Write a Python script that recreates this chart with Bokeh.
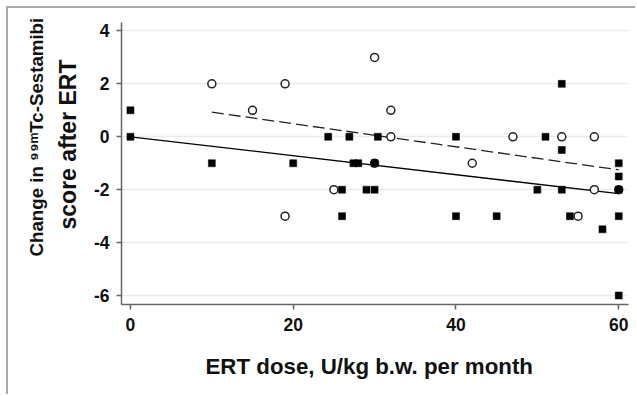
from bokeh.plotting import figure
from bokeh.models import Range1d, Title
from bokeh.embed import file_html
from bokeh.resources import INLINE

# Group 1 (filled squares): ERT dose vs change in score
sq_dose = [0, 0, 10, 20, 24.3, 26.9, 30.4, 27.4, 28, 30, 26, 29, 30, 26,
           40, 51, 53, 53, 60, 60, 60, 50, 53, 40, 45, 54, 60, 58, 60]
sq_change = [1, 0, -1, -1, 0, 0, 0, -1, -1, -1, -2, -2, -2, -3,
             0, 0, 2, -0.5, -1, -1.5, -2, -2, -2, -3, -3, -3, -3, -3.5, -6]

# Group 2 (open circles)
ci_dose = [10, 15, 19, 19, 25, 30, 32, 32, 42, 47, 53, 57, 57, 55, 30, 60]
ci_change = [2, 1, 2, -3, -2, 3, 1, 0, -1, 0, 0, 0, -2, -3, -1, -2]

# Regression lines (endpoints)
fit_sq_x = [0, 60]
fit_sq_y = [0.0, -2.15]
fit_ci_x = [10, 60]
fit_ci_y = [0.93, -1.25]

x_ticks = [0, 20, 40, 60]
y_ticks = [-6, -4, -2, 0, 2, 4]
y_tick_labels = ["-6", "-4", "-2", "0", "2", "4"]

x_title = "ERT dose, U/kg b.w. per month"
y_title_1 = "Change in \u2079\u2079\u1d50Tc-Sestamibi"
y_title_2 = "score after ERT"

p = figure(width=629, height=388, output_backend="svg", toolbar_location=None,
           x_range=Range1d(-1.1, 61.2), y_range=Range1d(-6.34, 4.32),
           min_border_left=113, min_border_right=9, min_border_top=14,
           min_border_bottom=91)
p.styles = {"margin-left": "6px", "margin-top": "6px",
            "border-left": "2px solid #aaaaaa", "border-top": "2px solid #aaaaaa"}
p.outline_line_color = None
p.background_fill_color = "white"
p.border_fill_color = "white"

p.xgrid.grid_line_color = None
p.ygrid.grid_line_color = "#ebebeb"
p.ygrid.grid_line_width = 1.5
p.xaxis.ticker = x_ticks
p.yaxis.ticker = y_ticks
p.yaxis.major_label_overrides = {t: s for t, s in zip(y_ticks, y_tick_labels)}

for ax in (p.xaxis[0], p.yaxis[0]):
    ax.axis_line_color = "#666666"
    ax.axis_line_width = 1.5
    ax.major_tick_line_color = "#666666"
    ax.major_tick_line_width = 1.5
    ax.major_tick_out = 5
    ax.major_tick_in = 0
    ax.minor_tick_line_color = None
    ax.major_label_text_font = "Liberation Sans"
    ax.major_label_text_font_style = "bold"
    ax.major_label_text_font_size = "17.5px"
    ax.major_label_text_color = "#111111"

p.xaxis.major_label_standoff = 8
p.yaxis.major_label_standoff = 7

title_style = dict(text_font="Liberation Sans", text_font_style="bold", text_color="#111111")
p.add_layout(Title(text=x_title, align="left", offset=84, standoff=36,
                   text_font_size="22.3px", **title_style), "below")
p.add_layout(Title(text=y_title_2, align="left", offset=75, standoff=16,
                   vertical_align="top", text_font_size="23px", **title_style), "left")
p.add_layout(Title(text=y_title_1, align="left", offset=48, standoff=0,
                   text_font_size="18.7px", **title_style), "left")

p.line(fit_sq_x, fit_sq_y, line_color="black", line_width=1.3)
p.line(fit_ci_x, fit_ci_y, line_color="#222222", line_width=1.3, line_dash="12 5")

p.scatter(ci_dose, ci_change, marker="circle", size=8, fill_color="white",
          line_color="#222222", line_width=1.5)
p.scatter(sq_dose, sq_change, marker="square", size=7, fill_color="black",
          line_color="black", line_width=0.5)

open("out.html", "w").write(file_html(p, INLINE))
